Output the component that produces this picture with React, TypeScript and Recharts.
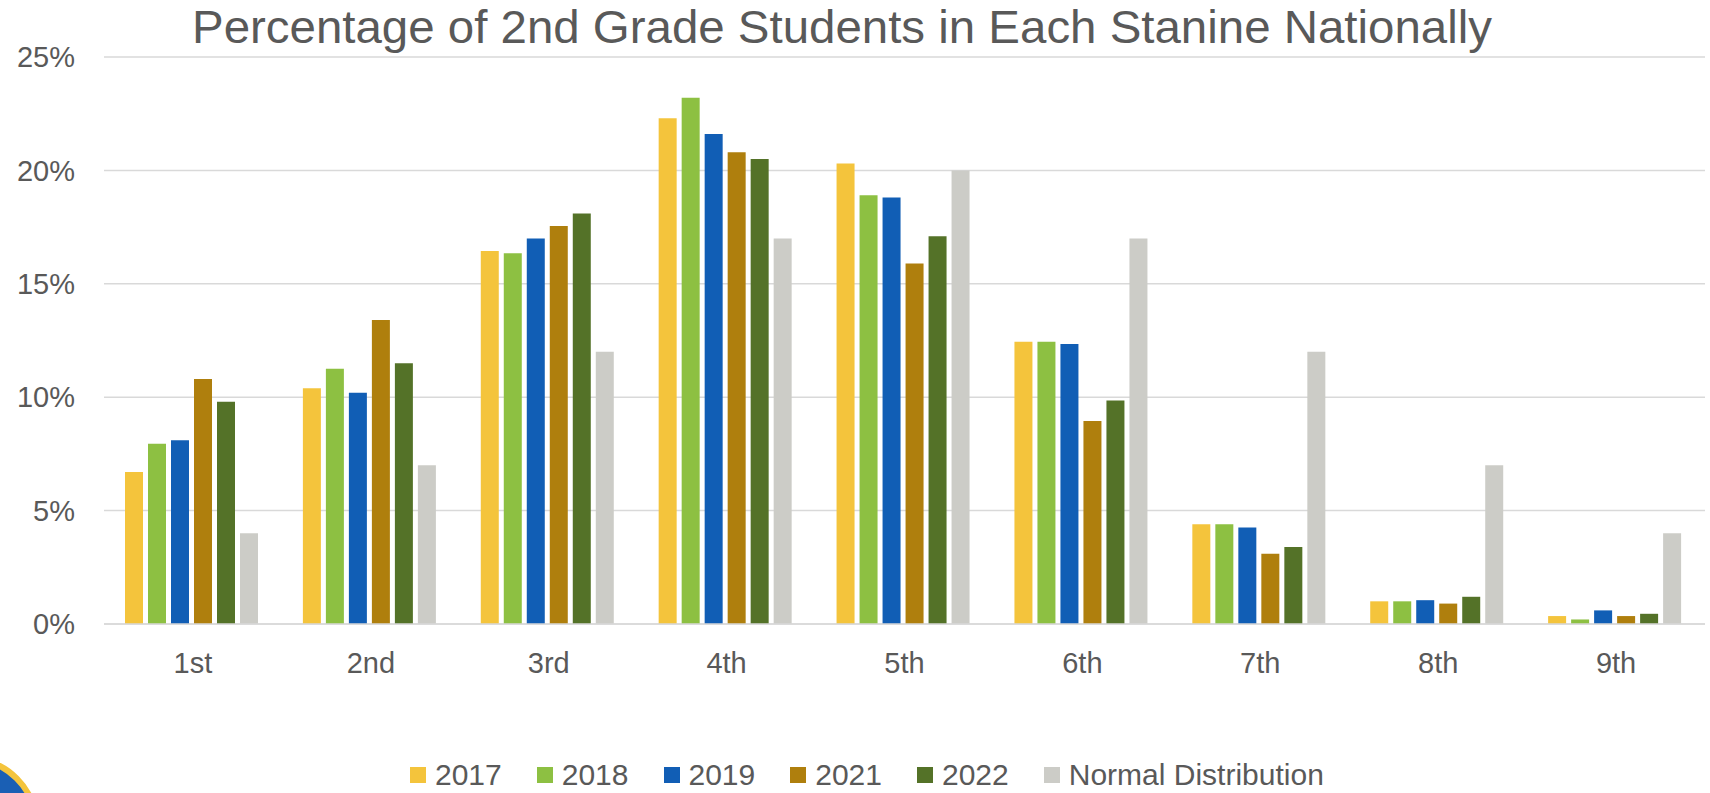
import { BarChart, Bar, XAxis, YAxis, CartesianGrid, Legend } from 'recharts'

const stanines = ['1st', '2nd', '3rd', '4th', '5th', '6th', '7th', '8th', '9th']

const aar2017 = [6.7, 10.4, 16.45, 22.3, 20.3, 12.45, 4.4, 1.0, 0.35]
const aar2018 = [7.95, 11.25, 16.35, 23.2, 18.9, 12.45, 4.4, 1.0, 0.2]
const aar2019 = [8.1, 10.2, 17.0, 21.6, 18.8, 12.35, 4.25, 1.05, 0.6]
const aar2021 = [10.8, 13.4, 17.55, 20.8, 15.9, 8.95, 3.1, 0.9, 0.35]
const aar2022 = [9.8, 11.5, 18.1, 20.5, 17.1, 9.85, 3.4, 1.2, 0.45]
const normal = [4, 7, 12, 17, 20, 17, 12, 7, 4]

const yTicks = [0, 5, 10, 15, 20, 25]

const serier = [
  { key: 'y2017', navn: '2017', farge: '#F4C43C' },
  { key: 'y2018', navn: '2018', farge: '#8DC042' },
  { key: 'y2019', navn: '2019', farge: '#115EB5' },
  { key: 'y2021', navn: '2021', farge: '#AF7F0D' },
  { key: 'y2022', navn: '2022', farge: '#547228' },
  { key: 'normal', navn: 'Normal Distribution', farge: '#CCCCC7' },
]

const data = stanines.map((s, i) => ({
  stanine: s,
  y2017: aar2017[i],
  y2018: aar2018[i],
  y2019: aar2019[i],
  y2021: aar2021[i],
  y2022: aar2022[i],
  normal: normal[i],
}))

const FONT = '"Liberation Sans", Arial, sans-serif'
const TEKST = '#595959'

function Tegnforklaring() {
  return (
    <div style={{ display: 'flex', alignItems: 'center', fontFamily: FONT, fontSize: 30, lineHeight: '26px', color: TEKST }}>
      {serier.map((s) => (
        <div key={s.key} style={{ display: 'flex', alignItems: 'center', marginRight: 35 }}>
          <span style={{ display: 'inline-block', width: 16, height: 16, background: s.farge, marginRight: 9 }} />
          <span>{s.navn}</span>
        </div>
      ))}
    </div>
  )
}

export default function App() {
  return (
    <div style={{ position: 'absolute', left: 0, top: 0, width: 1710, height: 793, background: '#fff', overflow: 'hidden' }}>
      <BarChart
        width={1710}
        height={793}
        data={data}
        margin={{ top: 57, right: 5, left: 0, bottom: 139 }}
        barCategoryGap={21}
        barGap={5}
      >
        <CartesianGrid vertical={false} stroke="#D9D9D9" strokeWidth={1.5} />
        <XAxis
          dataKey="stanine"
          height={30}
          axisLine={{ stroke: '#D9D9D9', strokeWidth: 1.5 }}
          tickLine={false}
          tickSize={0}
          tickMargin={28}
          tick={{ fontSize: 29, fill: TEKST, fontFamily: FONT }}
        />
        <YAxis
          width={104}
          domain={[0, 25]}
          ticks={yTicks}
          tickFormatter={(v) => `${v}%`}
          axisLine={false}
          tickLine={false}
          tickSize={0}
          tickMargin={29}
          tick={{ fontSize: 29, fill: TEKST, fontFamily: FONT }}
        />
        <Legend
          verticalAlign="middle"
          align="center"
          content={() => <Tegnforklaring />}
          wrapperStyle={{ left: 410, top: 762, width: 1100 }}
        />
        {serier.map((s) => (
          <Bar key={s.key} dataKey={s.key} name={s.navn} fill={s.farge} isAnimationActive={false} />
        ))}
      </BarChart>

      {/* Tittel */}
      <svg width={1710} height={60} style={{ position: 'absolute', left: 0, top: 0 }}>
        <text
          x={192}
          y={43}
          fontSize={46}
          fill={TEKST}
          fontFamily={FONT}
          textLength={1300}
          lengthAdjust="spacingAndGlyphs"
        >
          Percentage of 2nd Grade Students in Each Stanine Nationally
        </text>
      </svg>

      {/* Avskaaret logo nede til venstre */}
      <svg width={40} height={30} style={{ position: 'absolute', left: 0, top: 763 }}>
        <circle cx={-30} cy={62} r={66} fill="#1A5FB4" stroke="#F4C43C" strokeWidth={6} />
      </svg>
    </div>
  )
}
